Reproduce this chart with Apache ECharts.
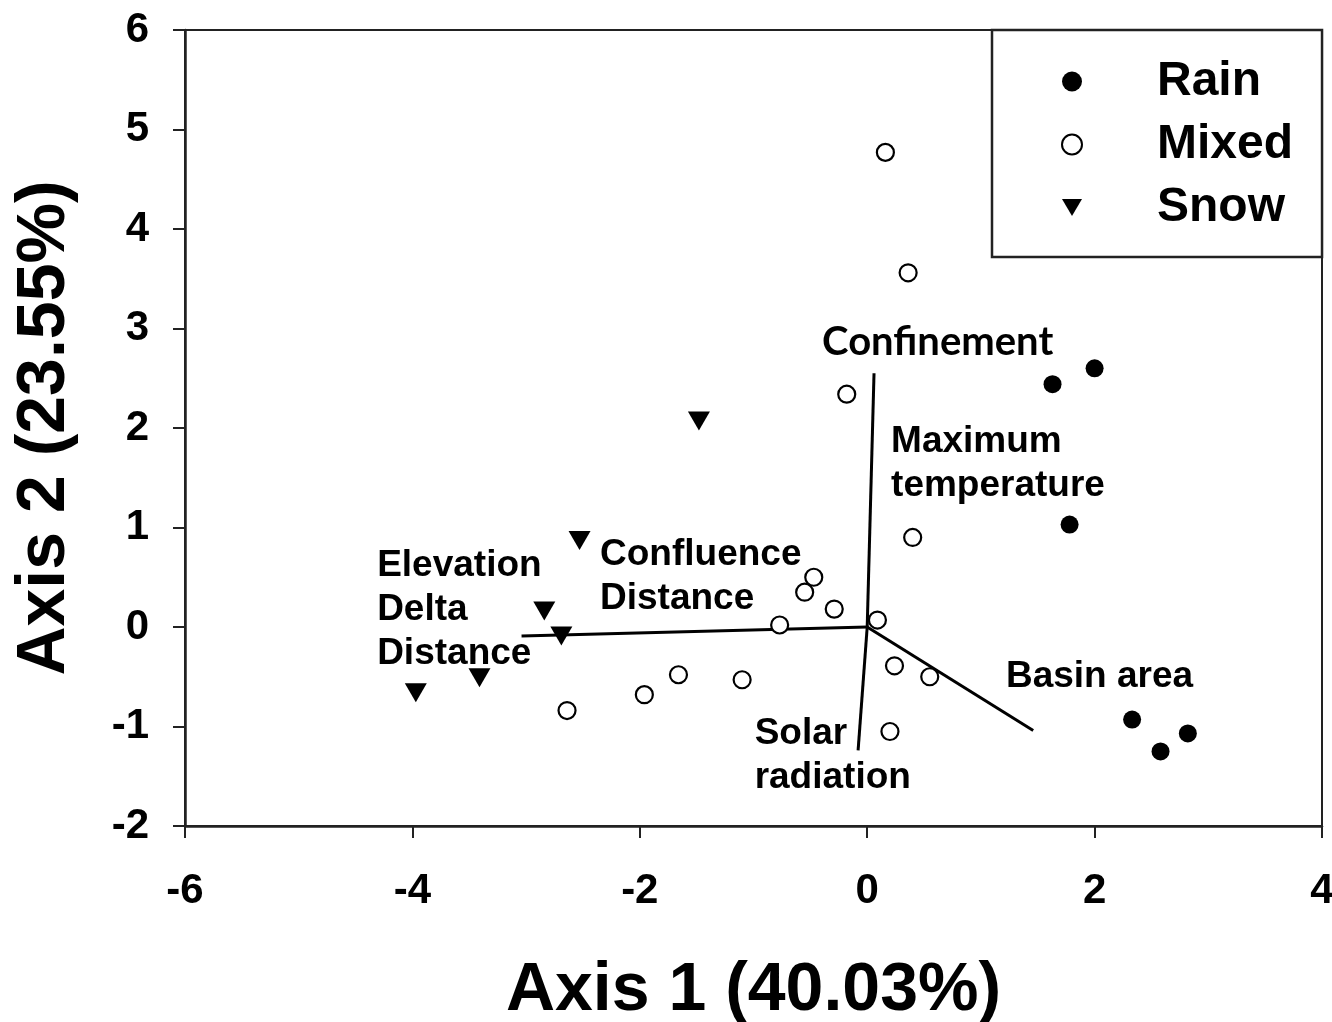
<!DOCTYPE html>
<html><head><meta charset="utf-8">
<script src="https://cdn.jsdelivr.net/npm/echarts@6/dist/echarts.min.js"></script>
<style>html,body{margin:0;padding:0;background:#fff}#c{width:1332px;height:1022px}</style>
</head><body><div id="c"></div>
<script>
// Sample scores (Axis 1, Axis 2)
const rain = [[2.00,2.60],[1.63,2.44],[1.78,1.03],[2.33,-0.93],[2.58,-1.25],[2.82,-1.07]];
const mixed = [[0.16,4.77],[0.36,3.56],[-0.18,2.34],[0.40,0.90],[-0.47,0.50],[-0.55,0.35],[-0.29,0.18],[-0.77,0.02],[0.09,0.07],[0.24,-0.39],[0.55,-0.50],[0.20,-1.05],[-1.66,-0.48],[-1.10,-0.53],[-1.96,-0.68],[-2.64,-0.84]];
const snow = [[-1.48,2.07],[-2.53,0.87],[-2.84,0.16],[-2.69,-0.09],[-3.41,-0.51],[-3.97,-0.66]];
// Biplot vectors (endpoints from origin)
const vectorNames = ['Confinement / Maximum temperature','Elevation Delta Distance / Confluence Distance','Basin area','Solar radiation'];
const vectorEnds = [[0.06,2.55],[-3.04,-0.09],[1.46,-1.04],[-0.08,-1.24]];
// Vector label texts and anchor points (data coords)
const vecLabels = ['Maximum\ntemperature','Confluence\nDistance','Elevation\nDelta\nDistance','Basin area','Solar\nradiation'];
const vecLabelAnchors = [[0.21,1.64],[-2.35,0.50],[-4.31,0.17],[1.22,-0.50],[-0.99,-1.29]];
const confinementLabel = 'Confinement';
const confinementAnchor = [0.62,2.86];
const xTicks = {min:-6,max:4,interval:2};
const yTicks = {min:-2,max:6,interval:1};

const tri = 'path://M0,0L20,0L10,17Z';
const FONT = 'Liberation Sans, Arial';
const chart = echarts.init(document.getElementById('c'));
const lineSeries = vectorEnds.map((e,i)=>({
  type:'line', name:vectorNames[i], data:[[0,0],e], showSymbol:false, symbol:'none',
  lineStyle:{color:'#000',width:3}, z:1, silent:true, legendHoverLink:false
}));
chart.setOption({
  animation:false,
  grid:{left:185,top:30,right:10,bottom:196,show:true,borderColor:'#222',borderWidth:2,
    containLabel:false,outerBoundsMode:'none'},
  legend:{
    data:[{name:'Rain',icon:'circle',itemStyle:{color:'#000'}},
          {name:'Mixed',icon:'circle'},
          {name:'Snow',icon:tri}],
    orient:'vertical', left:992, top:30,
    borderColor:'#222', borderWidth:2.5, padding:[26,29,24,69],
    itemWidth:20, itemHeight:20, itemGap:12,
    textStyle:{fontFamily:FONT,fontWeight:'bold',fontSize:48,color:'#000',lineHeight:51,padding:[0,0,0,70]}
  },
  xAxis:{type:'value',min:xTicks.min,max:xTicks.max,interval:xTicks.interval,
    name:'Axis 1 (40.03%)',nameLocation:'middle',nameGap:131,
    nameTextStyle:{fontFamily:FONT,fontWeight:'bold',fontSize:68,color:'#000'},
    axisLine:{onZero:false,lineStyle:{color:'#222',width:2.5}},
    axisTick:{show:true,inside:false,length:12,lineStyle:{color:'#222',width:2}},
    axisLabel:{margin:44,fontFamily:FONT,fontWeight:'bold',fontSize:42,color:'#000'},
    splitLine:{show:false}},
  yAxis:{type:'value',min:yTicks.min,max:yTicks.max,interval:yTicks.interval,
    name:'Axis 2 (23.55%)',nameLocation:'middle',nameGap:106,nameRotate:90,
    nameTextStyle:{fontFamily:FONT,fontWeight:'bold',fontSize:68,color:'#000'},
    axisLine:{onZero:false,lineStyle:{color:'#222',width:2.5}},
    axisTick:{show:true,inside:false,length:12,lineStyle:{color:'#222',width:2}},
    axisLabel:{margin:36,fontFamily:FONT,fontWeight:'bold',fontSize:42,color:'#000'},
    splitLine:{show:false}},
  series:[
    ...lineSeries,
    {type:'scatter',name:'Rain',data:rain,symbol:'circle',symbolSize:18,itemStyle:{color:'#000',opacity:1},z:3},
    {type:'scatter',name:'Mixed',data:mixed,symbol:'circle',symbolSize:17,itemStyle:{color:'#fff',borderColor:'#000',borderWidth:2.2,opacity:1},z:3},
    {type:'scatter',name:'Snow',data:snow,symbol:tri,symbolSize:[22,19],itemStyle:{color:'#000',opacity:1},z:3},
    {type:'scatter',name:'vlabels',data:vecLabels.map((t,i)=>({value:vecLabelAnchors[i],name:t})),
      symbolSize:0,silent:true,z:4,itemStyle:{opacity:1},
      label:{show:true,position:'right',distance:0,formatter:p=>p.name,
        fontFamily:FONT,fontWeight:'bold',fontSize:37,color:'#000',lineHeight:44,align:'left',verticalAlign:'middle'}},
    {type:'scatter',name:'clabel',data:[{value:confinementAnchor,name:confinementLabel}],
      symbolSize:0,silent:true,z:4,itemStyle:{opacity:1},
      label:{show:true,position:'inside',formatter:p=>p.name,
        fontFamily:'Lato, Open Sans',fontWeight:'bold',fontSize:40,color:'#000'}}
  ]
});
</script></body></html>
